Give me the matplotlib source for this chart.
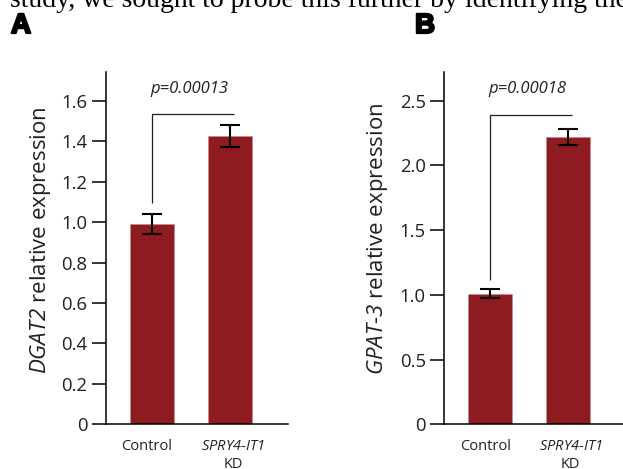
import matplotlib
matplotlib.use('Agg')
import matplotlib.pyplot as plt
import matplotlib.patheffects as pe

plt.rcParams['font.family'] = ['Open Sans', 'DejaVu Sans']
plt.rcParams['mathtext.fontset'] = 'custom'
plt.rcParams['mathtext.rm'] = 'Open Sans'
plt.rcParams['mathtext.sf'] = 'Open Sans:italic'

# data
groups = ['Control', '$\\mathsf{SPRY4}$-$\\mathsf{IT1}$\nKD']
dgat2_mean = [0.99, 1.425]
dgat2_err = [0.048, 0.053]
gpat3_mean = [1.01, 2.22]
gpat3_err = [0.034, 0.062]
dgat2_ticks = [0, 0.2, 0.4, 0.6, 0.8, 1.0, 1.2, 1.4, 1.6]
dgat2_ticklabels = ['0', '0.2', '0.4', '0.6', '0.8', '1.0', '1.2', '1.4', '1.6']
gpat3_ticks = [0, 0.5, 1.0, 1.5, 2.0, 2.5]
gpat3_ticklabels = ['0', '0.5', '1.0', '1.5', '2.0', '2.5']
pvals = ['p=0.00013', 'p=0.00018']

BAR = '#8e1b20'
INK = '#231f20'
W, H = 623, 469

fig = plt.figure(figsize=(W / 100, H / 100), dpi=100)
fig.patch.set_facecolor('white')


def panel(left_px, right_px, mean, err, ticks, ticklabels, ymax, xmax,
          ylabel, label_x_px, label_y, pval, bracket_top, leg_bottom, ptext_y):
    ax = fig.add_axes([left_px / W, 1 - 424.3 / H, (right_px - left_px) / W, (424.3 - 72) / H])
    x = [0, 1]
    ax.bar(x, mean, width=0.57, color=BAR, edgecolor='#c98a8c', linewidth=0.5)
    ax.errorbar(x, mean, yerr=err, fmt='none', ecolor='black', elinewidth=1.5,
                capsize=7.4, capthick=1.5)
    ax.set_xlim(-0.6, xmax)
    ax.set_ylim(0, ymax)
    ax.set_yticks(ticks)
    ax.set_yticklabels(ticklabels)
    ax.set_xticks([])
    # group names, nudged a little as in the original
    for xi, name, dx in zip(x, groups, [-0.065, 0.04]):
        ax.text(xi + dx, -0.042, name, transform=ax.get_xaxis_transform(), ha='center',
                va='top', fontsize=10.5, color=INK, linespacing=1.25)
    ax.tick_params(axis='y', length=10, width=1.1, pad=3, labelsize=13.3, colors='black',
                   labelcolor=INK)
    for s in ['top', 'right']:
        ax.spines[s].set_visible(False)
    for s in ['left', 'bottom']:
        ax.spines[s].set_linewidth(1.1)
    ax.set_ylabel(ylabel, fontsize=16, color=INK)
    ax.yaxis.set_label_coords((label_x_px - left_px) / (right_px - left_px), label_y)
    # significance bracket
    ax.plot([0, 0, 1.055], [leg_bottom, bracket_top, bracket_top], color=INK, lw=0.9,
            solid_capstyle='butt')
    ax.text(0.48, ptext_y, pval, ha='center', va='center', fontsize=12,
            style='italic', color=INK)
    return ax


axA = panel(105.5, 288, dgat2_mean, dgat2_err, dgat2_ticks, dgat2_ticklabels,
            1.742, 1.75, '$\\mathsf{DGAT2}$ relative expression', 53, 0.523, pvals[0],
            1.533, 1.096, 1.656)
axB = panel(444, 626, gpat3_mean, gpat3_err, gpat3_ticks, gpat3_ticklabels,
            2.722, 1.757, '$\\mathsf{GPAT}$-$\\mathsf{3}$ relative expression', 390, 0.526,
            pvals[1], 2.39, 1.115, 2.588)

letter_fx = [pe.withStroke(linewidth=1.6, foreground='black')]
fig.text(11 / W, 1 - 33 / H, 'A', fontsize=20, fontweight='bold', family=['Liberation Sans'],
         va='baseline', ha='left', path_effects=letter_fx)
fig.text(415 / W, 1 - 33 / H, 'B', fontsize=20, fontweight='bold', family=['Liberation Sans'],
         va='baseline', ha='left', path_effects=letter_fx)
fig.text(10 / W, 1 - 7 / H, 'study, we sought to probe this further by identifying the',
         fontsize=20, family=['Liberation Serif'], va='baseline', ha='left', color='black')

fig.savefig('out.png', dpi=100)
